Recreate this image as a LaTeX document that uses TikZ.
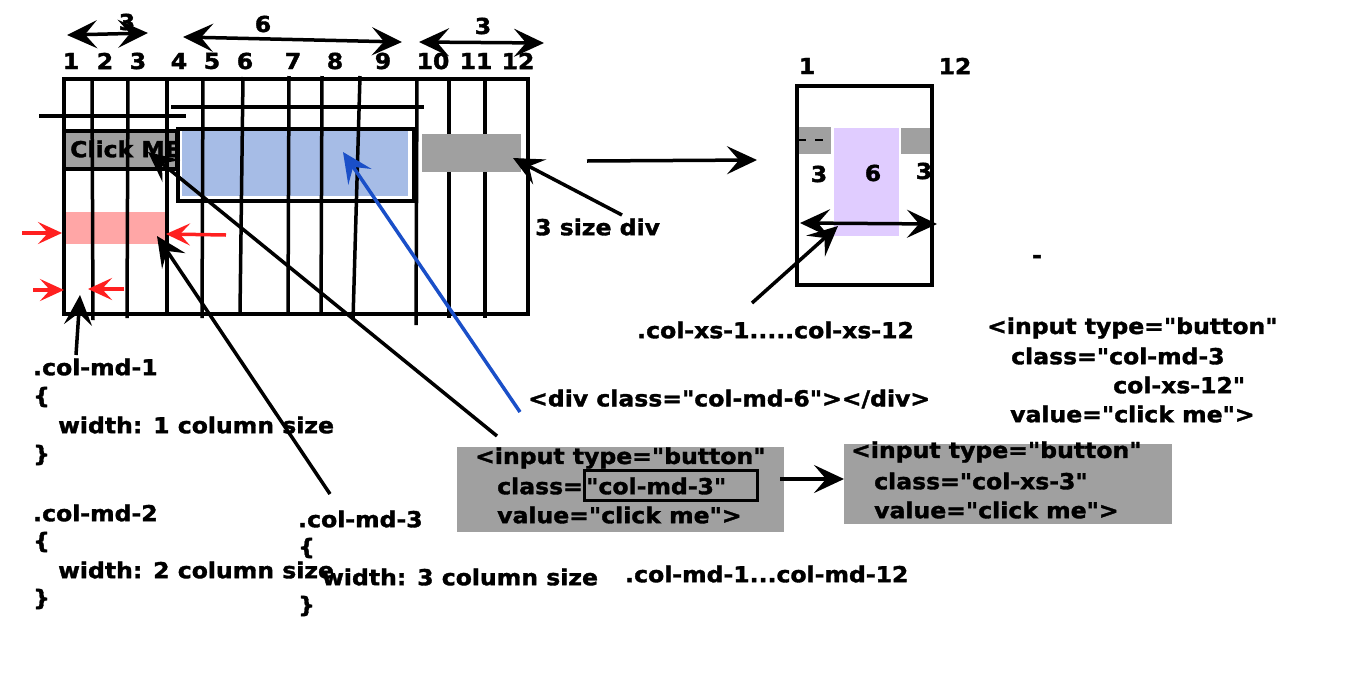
\documentclass[tikz,border=0pt]{standalone}
\usepackage{fontspec}
\setmainfont{DejaVu Sans}[FakeStretch=1.07, FakeBold=1.6, Ligatures=TeXOff]
\usetikzlibrary{arrows.meta}
\definecolor{gboxc}{HTML}{A0A0A0}
\definecolor{bluef}{HTML}{A6BCE6}
\definecolor{pinkf}{HTML}{FF6B6B}
\definecolor{purf}{HTML}{E0CCFF}
\definecolor{redar}{HTML}{FF2020}
\definecolor{bluear}{HTML}{1A4FC8}
\tikzset{
 every node/.style={font=\bfseries\fontsize{22}{26}\selectfont, inner sep=0pt},
 txt/.style={anchor=west},
 ln/.style={line width=3.5pt},
 bigtip/.tip={Stealth[length=30pt,width=28pt,inset=12pt]},
 arr/.style={line width=3.5pt, -bigtip},
 dbl/.style={line width=3.5pt, bigtip-bigtip},
 redarr/.style={line width=3.5pt, redar, -{Stealth[length=24pt,width=22pt,inset=10pt]}},
}
\begin{document}
\begin{tikzpicture}[x=1pt,y=-1pt]
\useasboundingbox (0,0) rectangle (1366,697);

% ---------- left grid ----------
\fill[pinkf, fill opacity=0.6] (64,212) rectangle (168,244);
\node[draw, line width=4pt, fill=gboxc, minimum width=113pt, minimum height=38pt, anchor=north west] (click) at (62,129) {};
\node[txt] (clicktxt) at (70,149) {Click ME};
\fill[bluef] (182,131) rectangle (408,196);
\draw[ln] (64,79) rectangle (528,314);
\foreach \a/\b/\c/\d in {92/79/93/320, 128/79/127/318, 167/79/167/314, 203/79/202/318,
  243/77/240/313, 289/76/288/313, 322/76/321/313, 360/76/353/320, 417/79/416/325,
  449/79/449/318, 485/79/485/318}
  \draw[ln] (\a,\b) -- (\c,\d);
\draw[line width=4.5pt] (39,116) -- (186,116);
\draw[line width=4.5pt] (171,107) -- (424,107);
\node[draw, line width=4pt, minimum width=236pt, minimum height=72pt, anchor=north west] (bluebox) at (176,127) {};
\node[fill=gboxc, minimum width=99pt, minimum height=38pt, anchor=north west] (gray3) at (422,134) {};

% column numbers
\foreach \x/\t in {71/1, 105/2, 138/3, 179/4, 212/5, 245/6, 293/7, 335/8, 383/9, 433/10, 476/11, 518/12}
  \node (c\t) at (\x,61) {\t};

% top spans
\node (s1) at (127,22) {3};
\node (s2) at (263,24) {6};
\node (s3) at (483,26) {3};
\coordinate (s1l) at (67,35); \coordinate (s1r) at (148,33);
\coordinate (s2l) at (183,37); \coordinate (s2r) at (402,42);
\coordinate (s3l) at (419,42); \coordinate (s3r) at (544,43);
\draw[dbl] (s1l) -- (s1r);
\draw[dbl] (s2l) -- (s2r);
\draw[dbl] (s3l) -- (s3r);

% red arrows
\coordinate (r1a) at (22,233); \coordinate (r1b) at (62,233);
\coordinate (r2a) at (226,235); \coordinate (r2b) at (166,234);
\coordinate (r3a) at (33,290); \coordinate (r3b) at (64,290);
\coordinate (r4a) at (124,289); \coordinate (r4b) at (88,289);
\draw[redarr] (r1a) -- (r1b);
\draw[redarr] (r2a) -- (r2b);
\draw[redarr] (r3a) -- (r3b);
\draw[redarr] (r4a) -- (r4b);

% ---------- left texts ----------
\node[txt] (md1) at (33,367) {.col-md-1};
\node[txt] (md1a) at (33,397) {\{};
\node[txt] (md1b) at (58,425) {width: 1 column size};
\node[txt] (md1c) at (33,455) {\}};
\node[txt] (md2) at (33,513) {.col-md-2};
\node[txt] (md2a) at (33,542) {\{};
\node[txt] (md2b) at (58,570) {width: 2 column size};
\node[txt] (md2c) at (33,599) {\}};
\node[txt] (md3) at (298,519) {.col-md-3};
\node[txt] (md3a) at (298,548) {\{};
\node[txt] (md3b) at (322,577) {width: 3 column size};
\node[txt] (md3c) at (298,606) {\}};
\node[txt] (mdrange) at (625,574) {.col-md-1...col-md-12};

\coordinate (p1a) at (76,355); \coordinate (p1b) at (80,295);
\draw[arr] (p1a) -- (p1b);
\coordinate (p3a) at (330,494); \coordinate (p3b) at (157,236);
\draw[arr] (p3a) -- (p3b);

% ---------- middle ----------
\node[txt] (divtxt) at (528,399) {<div class="col-md-6"></div>};
\coordinate (bla) at (520,412); \coordinate (blb) at (343,152);
\draw[line width=3.5pt, bluear, -bigtip] (bla) -- (blb);

\node[txt] (size3) at (535,227) {3 size div};
\coordinate (sza) at (622,215); \coordinate (szb) at (513,158);
\draw[arr] (sza) -- (szb);

\node[fill=gboxc, minimum width=327pt, minimum height=85pt, anchor=north west] (gb1) at (457,447) {};
\node[txt] (g1a) at (475,458) {<input type="button"};
\node[txt] (g1b) at (497,486) {class=};
\node[draw, line width=3pt, minimum width=173pt, minimum height=30pt, anchor=north west] (clsbox) at (583,469) {};
\node[txt] (g1bb) at (586,486) {"col-md-3"};
\node[txt] (g1c) at (497,515) {value="click me">};
\coordinate (cla) at (497,436); \coordinate (clb) at (148,152);
\draw[arr] (cla) -- (clb);

\node[fill=gboxc, minimum width=328pt, minimum height=80pt, anchor=north west] (gb2) at (844,444) {};
\node[txt] (g2a) at (851,452) {<input type="button"};
\node[txt] (g2b) at (874,481) {class="col-xs-3"};
\node[txt] (g2c) at (874,510) {value="click me">};
\coordinate (ga) at (780,479);
\draw[arr] (ga) -- (gb2.west |- ga);

% ---------- right small box ----------
\node (r1) at (807,66) {1};
\node (r12) at (955,66) {12};
\fill[gboxc] (797,127) rectangle (831,154);
\fill[gboxc] (901,128) rectangle (933,154);
\draw[line width=2.5pt] (798,140) -- (806,140);
\draw[line width=2.5pt] (815,140) -- (823,140);
\fill[purf] (834,128) rectangle (899,236);
\node[draw, line width=3.5pt, minimum width=135pt, minimum height=199pt, anchor=north west] (xsbox) at (795,84) {};
\node (x3a) at (819,174) {3};
\node (x6) at (873,173) {6};
\node (x3b) at (924,171) {3};
\coordinate (xal) at (800,223); \coordinate (xar) at (937,224);
\draw[dbl] (xal) -- (xar);
\coordinate (ra) at (587,161); \coordinate (rb) at (757,160);
\draw[arr] (ra) -- (rb);

\node[txt] (xsrange) at (637,330) {.col-xs-1.....col-xs-12};
\coordinate (xsa) at (752,303); \coordinate (xsb) at (838,226);
\draw[arr] (xsa) -- (xsb);

\node (dash) at (1037,259) {-};

\node[txt] (t1) at (987,328) {<input type="button"};
\node[txt] (t2) at (1011,356) {class="col-md-3};
\node[txt] (t3) at (1113,385) {col-xs-12"};
\node[txt] (t4) at (1010,414) {value="click me">};
\end{tikzpicture}
\end{document}
